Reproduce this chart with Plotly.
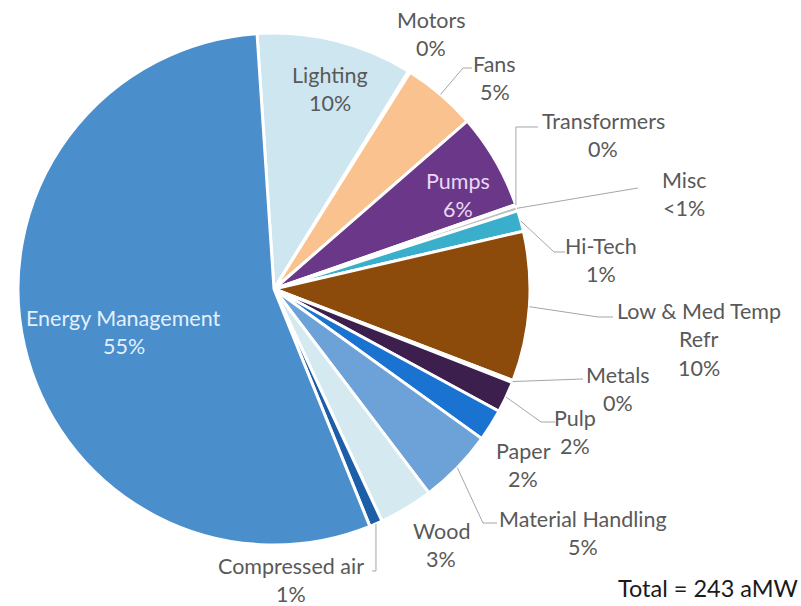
import math
import plotly.graph_objects as go

# ---------------- data ----------------
categories = ["Lighting", "Motors", "Fans", "Pumps", "Transformers", "Misc", "Hi-Tech",
              "Low & Med Temp Refr", "Metals", "Pulp", "Paper", "Material Handling",
              "Wood", "Compressed air", "Energy Management"]
values_amw = [24.0, 0.3, 11.4, 14.7, 0.2, 0.8, 3.2, 23.0, 0.3, 4.8, 4.9, 11.5, 8.3, 2.0, 134.0]
pct_labels = ["10%", "0%", "5%", "6%", "0%", "<1%", "1%", "10%", "0%", "2%", "2%", "5%",
              "3%", "1%", "55%"]
display_names = ["Lighting", "Motors", "Fans", "Pumps", "Transformers", "Misc", "Hi-Tech",
                 "Low & Med Temp<br>Refr", "Metals", "Pulp", "Paper", "Material Handling",
                 "Wood", "Compressed air", "Energy Management"]
total_label = "Total = 243 aMW"

colors = ["#CDE6F0", "#9DC3E6", "#F9C28F", "#6B3889", "#A9D18E", "#BFBFBF", "#3AAFCB",
          "#8C4A0B", "#7F7F7F", "#3D1F4D", "#1A73D0", "#6DA2D8", "#D5E9F1", "#1D5EA8",
          "#4A8ECC"]

# ---------------- layout constants ----------------
W, H = 801, 606
CX, CY, R = 274, 289, 256
ROT = -3.8
FONT = "Lato"
FS = 21.5
LINE_GAP = 28.5
GRAY = "#595959"
LEADER = "#A6A6A6"

# label block centres (px) and text colour
label_pos = {
    "Lighting": (330, 89, GRAY),
    "Motors": (431, 34, GRAY),
    "Fans": (495, 78, GRAY),
    "Pumps": (458, 195, "#E8D8F5"),
    "Transformers": (603, 135, GRAY),
    "Misc": (684, 194, GRAY),
    "Hi-Tech": (601, 260, GRAY),
    "Low & Med Temp Refr": (699, 339, GRAY),
    "Metals": (618, 389, GRAY),
    "Pulp": (575, 432, GRAY),
    "Paper": (523, 465, GRAY),
    "Material Handling": (583, 533, GRAY),
    "Wood": (441, 545, GRAY),
    "Compressed air": (291, 580, GRAY),
    "Energy Management": (124, 332, "#E3F0FB"),
}
# leader-line knee points (px); None = same x as start point
leader_knees = {
    "Fans": [(463, 68), (472, 68)],
    "Transformers": [(None, 127), (538, 127)],
    "Misc": [(638, 188)],
    "Hi-Tech": [(554, 252), (565, 252)],
    "Low & Med Temp Refr": [(598, 317), (613, 317)],
    "Metals": [(583, 379)],
    "Pulp": [(541, 422), (555, 422)],
    "Material Handling": [(483, 523), (497, 523)],
    "Compressed air": [(None, 571), (372, 571)],
}


def px2paper(x, y):
    return x / W, 1 - y / H


fig = go.Figure()
dom_x = [(CX - R) / W, (CX + R) / W]
dom_y = [1 - (CY + R) / H, 1 - (CY - R) / H]
fig.add_trace(go.Pie(
    labels=categories, values=values_amw, sort=False, direction="clockwise",
    rotation=ROT, marker=dict(colors=colors, line=dict(color="white", width=3)),
    textinfo="none", hoverinfo="label+value+percent", showlegend=False,
    domain=dict(x=dom_x, y=dom_y),
))

total = sum(values_amw)
cum = 0.0
mid_angle = {}
for c, v in zip(categories, values_amw):
    mid_angle[c] = ROT + (cum + v / 2) / total * 360
    cum += v

annotations = []
shapes = []
for c, name, pct in zip(categories, display_names, pct_labels):
    x, y, col = label_pos[c]
    lines = name.split("<br>") + [pct]
    n = len(lines)
    for i, t in enumerate(lines):
        ly = y + (i - (n - 1) / 2) * LINE_GAP
        xp, yp = px2paper(x, ly)
        annotations.append(dict(x=xp, y=yp, xref="paper", yref="paper", text=t,
                                showarrow=False, xanchor="center", yanchor="middle",
                                font=dict(family=FONT, size=FS, color=col)))
    if c in leader_knees:
        a = math.radians(mid_angle[c])
        sx, sy = CX + R * math.sin(a), CY - R * math.cos(a)
        pts = [(sx, sy)]
        for kx, ky in leader_knees[c]:
            pts.append((sx if kx is None else kx, ky))
        path = ""
        for j, (qx, qy) in enumerate(pts):
            xp, yp = px2paper(qx, qy)
            path += ("M" if j == 0 else " L") + f" {xp:.5f},{yp:.5f}"
        shapes.append(dict(type="path", path=path, xref="paper", yref="paper",
                           line=dict(color=LEADER, width=1)))

tx, ty = px2paper(800, 588)
annotations.append(dict(x=tx, y=ty, xref="paper", yref="paper", text=total_label,
                        showarrow=False, xanchor="right", yanchor="middle",
                        font=dict(family=FONT, size=23.5, color="#1a1a1a")))

fig.update_layout(width=W, height=H, margin=dict(l=0, r=0, t=0, b=0),
                  paper_bgcolor="white", plot_bgcolor="white",
                  annotations=annotations, shapes=shapes)
fig.write_html("out.html", config={"displayModeBar": False},
               post_script="document.body.style.margin='0';document.body.style.overflow='hidden';")
